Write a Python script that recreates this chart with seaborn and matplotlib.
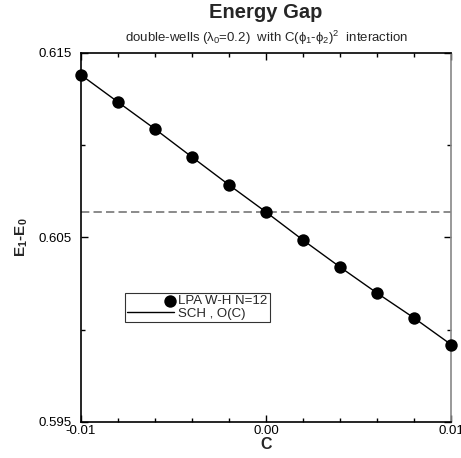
import matplotlib
matplotlib.use("Agg")
import matplotlib.pyplot as plt
import seaborn as sns
import pandas as pd
from matplotlib.ticker import MultipleLocator, FixedLocator
from matplotlib.legend_handler import HandlerPathCollection

# Data
C_values = [-0.010, -0.008, -0.006, -0.004, -0.002, 0.000, 0.002, 0.004, 0.006, 0.008, 0.010]
lpa_gap = [0.61381, 0.61234, 0.61088, 0.60936, 0.60785, 0.60638, 0.60486, 0.60340, 0.60199, 0.60064, 0.59920]
sch_C = [-0.010, -0.008, -0.006, -0.004, -0.002, 0.000, 0.002, 0.004, 0.006, 0.008, 0.010]
sch_gap = [0.61381, 0.61234, 0.61088, 0.60936, 0.60785, 0.60638, 0.60486, 0.60340, 0.60199, 0.60064, 0.59920]
ref_level = 0.60638

sns.set_theme(style="ticks")
plt.rcParams['font.family'] = ['Liberation Sans', 'DejaVu Sans']
plt.rcParams['mathtext.fontset'] = 'custom'
plt.rcParams['mathtext.rm'] = 'Liberation Sans'
plt.rcParams['mathtext.it'] = 'Liberation Sans'
plt.rcParams['mathtext.bf'] = 'Liberation Sans:bold'


class RightMarker(HandlerPathCollection):
    def get_xdata(self, legend, xdescent, ydescent, width, height, fontsize):
        xd = [-xdescent + width - 0.35 * fontsize]
        return xd, xd


fig = plt.figure(figsize=(4.61, 4.58), dpi=100)
ax = fig.add_axes([81/461, 1-422/458, (451-81)/461, (422-53)/458])

df_pts = pd.DataFrame({"C": C_values, "gap": lpa_gap})
df_line = pd.DataFrame({"C": sch_C, "gap": sch_gap})

ax.axhline(ref_level, color="#777777", lw=1.2, ls=(0, (5, 2.5)), zorder=1)
sns.lineplot(data=df_line, x="C", y="gap", ax=ax, color="black", lw=1.0,
             label="SCH , O(C)", zorder=2)
sns.scatterplot(data=df_pts, x="C", y="gap", ax=ax, color="black", s=80,
                edgecolor="black", linewidth=0, label="LPA W-H N=12", zorder=3,
                clip_on=False)

ax.set_xlim(-0.01, 0.01)
ax.set_ylim(0.595, 0.615)
ax.xaxis.set_major_locator(FixedLocator([-0.01, 0.0, 0.01]))
ax.xaxis.set_minor_locator(MultipleLocator(0.002))
ax.set_xticklabels(["-0.01", "0.00", "0.01"])
ax.yaxis.set_major_locator(FixedLocator([0.595, 0.605, 0.615]))
ax.yaxis.set_minor_locator(FixedLocator([0.600, 0.610]))
ax.set_yticklabels(["0.595", "0.605", "0.615"])
ax.tick_params(which="both", direction="in", top=True, right=True, labelsize=9.5, colors="black")
ax.tick_params(which="major", length=5, width=1)
ax.tick_params(which="minor", length=3, width=1)
ax.tick_params(axis="x", which="major", pad=2)
ax.tick_params(axis="y", which="major", pad=7)

for s in ["left", "bottom", "top"]:
    ax.spines[s].set_color("black")
    ax.spines[s].set_linewidth(1.2)
ax.spines["right"].set_color("#888888")
ax.spines["right"].set_linewidth(1.2)

ax.set_xlabel("C", fontsize=11.5, fontweight="bold", labelpad=0)
ax.set_ylabel(r"E$_\mathbf{1}$-E$_\mathbf{0}$", fontsize=11, fontweight="bold", labelpad=6)

fig.text((81+451)/2/461, 1-12/458, "Energy Gap", ha="center", va="center",
         fontsize=14.5, fontweight="bold")
fig.text((81+451)/2/461, 1-38/458,
         r"double-wells ($\lambda_0$=0.2)  with C($\phi_1$-$\phi_2$)$^2$  interaction",
         ha="center", va="center", fontsize=9.5)

handles, labels = ax.get_legend_handles_labels()
order = [labels.index("LPA W-H N=12"), labels.index("SCH , O(C)")]
pts_handle = handles[order[0]]
leg = ax.legend([handles[i] for i in order], [labels[i] for i in order],
                loc="upper left", bbox_to_anchor=((125-81)/370, (422-293)/369),
                frameon=True, fancybox=False, edgecolor="black", fontsize=9.5,
                handlelength=3.6, handletextpad=0.3, borderpad=0.15, labelspacing=0.05,
                borderaxespad=0, handler_map={type(pts_handle): RightMarker()})
leg.get_frame().set_linewidth(0.8)

fig.savefig("out.png", dpi=100)
